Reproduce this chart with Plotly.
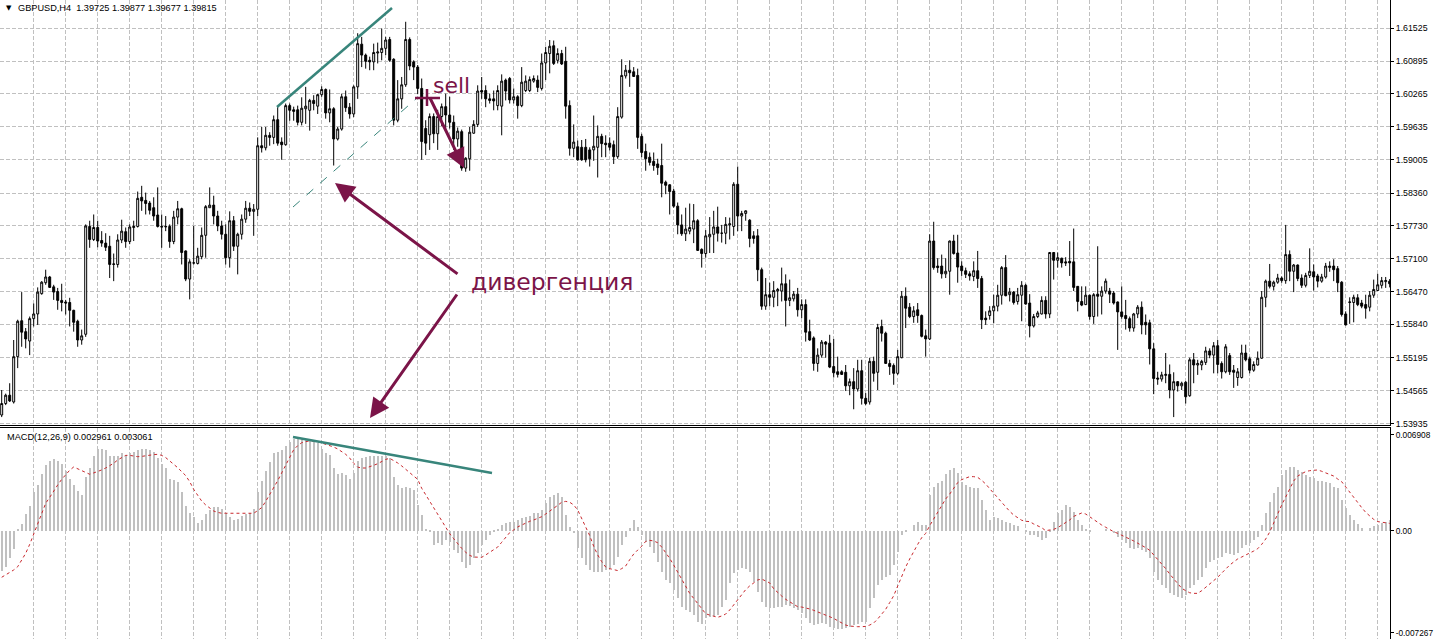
import plotly.graph_objects as go

# ---------------- data (prices stored as pips above 1.5000) ----------------
BASE = 1.5
PIP = 1e-4
bars = list(range(1, 349))

open_pips = [
    410, 432, 448, 435, 522, 591, 570, 552, 595, 604,
    643, 664, 675, 656, 647, 630, 627, 626, 611, 590,
    554, 565, 772, 747, 770, 745, 740, 734, 699, 699,
    746, 762, 743, 770, 772, 828, 822, 817, 808, 794,
    772, 771, 772, 743, 790, 806, 725, 671, 702, 701,
    714, 755, 808, 813, 792, 773, 757, 712, 783, 734,
    757, 786, 807, 801, 805, 927, 923, 947, 943, 977,
    934, 929, 1004, 996, 996, 972, 998, 995, 1014, 1003,
    1025, 1035, 990, 998, 940, 959, 1021, 1001, 988, 1040,
    1122, 1101, 1091, 1088, 1105, 1106, 1114, 1131, 1093, 976,
    1017, 1044, 1131, 1088, 1078, 1037, 960, 948, 983, 950,
    983, 1002, 986, 972, 940, 954, 884, 902, 951, 968,
    1033, 1033, 1017, 1017, 1004, 1003, 1053, 1056, 1015, 1021,
    1004, 1033, 1033, 1051, 1053, 1037, 1086, 1104, 1119, 1091,
    1104, 1089, 1004, 922, 925, 924, 924, 919, 919, 924,
    945, 932, 932, 929, 906, 982, 1061, 1072, 1069, 1062,
    945, 916, 905, 897, 892, 889, 857, 852, 840, 811,
    775, 758, 763, 767, 783, 728, 720, 752, 757, 771,
    759, 759, 775, 772, 853, 792, 797, 784, 754, 754,
    689, 619, 641, 636, 648, 648, 662, 630, 633, 642,
    612, 622, 570, 558, 509, 525, 550, 548, 503, 493,
    493, 492, 466, 474, 460, 495, 442, 435, 513, 492,
    580, 567, 509, 505, 490, 520, 638, 617, 599, 612,
    601, 562, 556, 744, 696, 696, 681, 686, 744, 721,
    696, 687, 681, 676, 687, 672, 596, 601, 610, 619,
    640, 693, 641, 646, 628, 640, 659, 625, 581, 599,
    604, 630, 604, 722, 707, 711, 704, 705, 704, 657,
    628, 622, 640, 599, 642, 638, 648, 648, 644, 627,
    608, 601, 595, 577, 604, 617, 588, 587, 537, 481,
    479, 486, 488, 458, 474, 466, 473, 447, 516, 506,
    506, 511, 533, 525, 543, 509, 493, 524, 496, 482,
    482, 529, 518, 496, 506, 519, 636, 667, 657, 665,
    673, 668, 718, 686, 698, 673, 659, 678, 685, 677,
    667, 675, 693, 696, 691, 665, 604, 626, 626, 635,
    625, 622, 617, 640, 649, 659, 666, 667,
]

high_pips = [
    458, 451, 471, 554, 593, 646, 577, 599, 624, 655,
    667, 689, 677, 660, 654, 662, 631, 635, 612, 593,
    574, 776, 783, 795, 783, 763, 759, 754, 720, 757,
    785, 770, 776, 783, 839, 850, 837, 821, 828, 847,
    795, 792, 776, 802, 821, 808, 726, 709, 773, 731,
    770, 813, 847, 831, 802, 783, 776, 801, 792, 760,
    795, 821, 818, 815, 943, 963, 963, 953, 985, 1001,
    943, 1008, 1008, 1002, 1004, 1020, 1040, 1017, 1024, 1027,
    1041, 1037, 1035, 1001, 963, 1027, 1033, 1009, 1043, 1143,
    1136, 1104, 1098, 1123, 1125, 1152, 1136, 1136, 1095, 1053,
    1059, 1165, 1135, 1091, 1082, 1056, 976, 989, 989, 996,
    1008, 1027, 1021, 985, 962, 958, 905, 963, 976, 1043,
    1059, 1043, 1027, 1033, 1043, 1064, 1056, 1059, 1037, 1024,
    1078, 1062, 1060, 1062, 1062, 1104, 1117, 1130, 1129, 1114,
    1111, 1117, 1014, 968, 937, 938, 940, 924, 985, 966,
    950, 947, 943, 937, 1001, 1093, 1082, 1091, 1078, 1075,
    950, 931, 914, 914, 902, 931, 860, 853, 844, 818,
    795, 808, 816, 815, 786, 730, 765, 790, 802, 810,
    775, 790, 789, 857, 887, 802, 803, 786, 763, 767,
    693, 673, 664, 667, 654, 693, 680, 670, 648, 654,
    632, 632, 593, 561, 538, 554, 552, 564, 556, 522,
    496, 506, 480, 500, 516, 516, 452, 520, 522, 585,
    593, 570, 516, 509, 535, 648, 655, 625, 619, 625,
    603, 574, 757, 781, 711, 718, 711, 745, 756, 756,
    705, 693, 686, 705, 725, 677, 609, 619, 641, 660,
    696, 717, 654, 648, 654, 667, 662, 642, 604, 610,
    638, 638, 723, 723, 722, 712, 713, 744, 768, 657,
    657, 657, 641, 644, 734, 657, 672, 654, 648, 628,
    657, 631, 599, 606, 621, 628, 603, 593, 548, 493,
    493, 529, 507, 492, 475, 474, 475, 520, 529, 516,
    516, 541, 538, 550, 554, 513, 546, 529, 506, 500,
    545, 545, 522, 513, 532, 648, 670, 700, 668, 681,
    676, 775, 726, 700, 699, 680, 683, 730, 699, 681,
    681, 702, 705, 709, 696, 667, 609, 636, 641, 642,
    631, 641, 648, 670, 681, 675, 675, 671,
]

low_pips = [
    406, 429, 435, 432, 500, 541, 538, 525, 580, 583,
    641, 660, 654, 631, 612, 609, 603, 580, 570, 541,
    545, 560, 731, 744, 732, 733, 725, 673, 667, 693,
    740, 731, 738, 744, 770, 802, 795, 795, 783, 770,
    731, 763, 731, 738, 776, 699, 667, 632, 699, 699,
    709, 712, 808, 776, 763, 747, 699, 693, 725, 680,
    747, 779, 792, 754, 792, 914, 918, 927, 930, 927,
    900, 927, 975, 975, 966, 966, 969, 956, 995, 988,
    1021, 979, 972, 889, 937, 956, 992, 979, 982, 1017,
    1078, 1075, 1072, 1072, 1085, 1091, 1101, 1088, 966, 972,
    998, 1040, 1072, 1053, 1026, 900, 909, 919, 932, 919,
    965, 960, 960, 919, 925, 879, 877, 879, 950, 963,
    1017, 1001, 1008, 995, 995, 947, 1014, 1008, 1008, 979,
    1001, 1030, 1030, 1048, 1030, 1033, 1053, 1066, 1082, 1085,
    1082, 979, 908, 905, 898, 898, 895, 887, 898, 866,
    905, 905, 918, 892, 902, 979, 1056, 1040, 1059, 921,
    905, 879, 889, 879, 871, 828, 834, 795, 808, 757,
    754, 744, 757, 740, 725, 693, 712, 721, 721, 743,
    741, 738, 747, 754, 763, 763, 783, 732, 739, 667,
    612, 612, 619, 617, 619, 628, 580, 619, 628, 599,
    596, 551, 552, 495, 493, 520, 520, 500, 482, 482,
    487, 456, 448, 421, 455, 430, 429, 430, 474, 458,
    551, 509, 487, 468, 487, 519, 577, 596, 587, 587,
    559, 522, 554, 689, 683, 672, 673, 641, 718, 664,
    677, 673, 668, 667, 654, 575, 583, 593, 586, 609,
    622, 638, 628, 622, 622, 590, 622, 559, 578, 596,
    603, 595, 596, 670, 693, 693, 696, 677, 648, 609,
    619, 621, 593, 585, 599, 603, 643, 625, 622, 535,
    595, 574, 570, 570, 596, 565, 564, 507, 450, 468,
    474, 471, 442, 406, 455, 458, 432, 445, 471, 487,
    496, 506, 519, 490, 490, 480, 490, 487, 462, 466,
    480, 513, 490, 493, 505, 518, 617, 653, 649, 662,
    664, 662, 667, 646, 667, 654, 655, 673, 649, 655,
    664, 672, 685, 667, 646, 599, 582, 585, 588, 619,
    615, 595, 609, 635, 648, 653, 654, 655,
]

close_pips = [
    432, 448, 437, 522, 590, 569, 556, 595, 604, 646,
    665, 675, 655, 646, 630, 626, 625, 611, 588, 554,
    562, 773, 747, 770, 744, 740, 732, 699, 700, 746,
    763, 743, 771, 772, 826, 821, 816, 803, 792, 772,
    771, 772, 743, 790, 806, 722, 671, 704, 702, 715,
    755, 810, 813, 792, 773, 757, 712, 783, 734, 757,
    786, 807, 801, 805, 927, 923, 947, 943, 977, 932,
    929, 1004, 995, 993, 972, 999, 1003, 1014, 1008, 1025,
    1035, 990, 998, 940, 959, 1021, 1000, 988, 1040, 1123,
    1101, 1089, 1088, 1106, 1107, 1114, 1130, 1091, 976, 1017,
    1044, 1131, 1080, 1078, 1037, 935, 932, 983, 950, 983,
    1002, 986, 972, 940, 955, 884, 903, 953, 968, 1032,
    1030, 1017, 1014, 1013, 1033, 1051, 1032, 1015, 1021, 1004,
    1049, 1051, 1054, 1056, 1039, 1086, 1106, 1118, 1085, 1104,
    1084, 1003, 922, 934, 900, 900, 900, 902, 926, 945,
    931, 929, 924, 906, 983, 1062, 1072, 1067, 1060, 943,
    914, 902, 895, 889, 885, 855, 851, 839, 811, 775,
    758, 767, 770, 783, 726, 720, 754, 757, 771, 759,
    759, 776, 777, 853, 792, 797, 802, 749, 749, 689,
    619, 641, 636, 649, 651, 662, 630, 635, 642, 612,
    622, 569, 554, 509, 525, 550, 546, 502, 491, 488,
    488, 466, 474, 460, 495, 442, 432, 513, 490, 578,
    567, 509, 503, 490, 522, 638, 615, 599, 610, 601,
    561, 556, 744, 693, 693, 681, 686, 744, 720, 694,
    687, 680, 677, 687, 672, 593, 593, 610, 619, 640,
    693, 639, 646, 626, 641, 659, 623, 581, 599, 606,
    630, 604, 722, 707, 712, 702, 702, 702, 655, 628,
    621, 640, 599, 641, 638, 648, 667, 642, 625, 608,
    599, 595, 577, 604, 617, 583, 583, 537, 480, 479,
    487, 488, 458, 474, 466, 471, 445, 516, 506, 509,
    513, 533, 525, 543, 507, 493, 541, 493, 492, 493,
    529, 516, 496, 507, 519, 636, 667, 657, 665, 673,
    668, 718, 686, 698, 672, 659, 678, 686, 675, 667,
    675, 696, 696, 689, 664, 603, 583, 627, 636, 622,
    619, 615, 640, 651, 660, 668, 668, 662,
]

# MACD(12,26,9) main line (histogram) and signal, in units of 0.0001
macd_main = [
    -27, -24, -18, -12, 1, 4.4, 11, 16.7, 26, 31,
    38, 44, 47, 48, 47, 45, 40, 35, 31, 27,
    24, 36, 42, 50, 55, 55, 54, 50.5, 50, 50.5,
    52, 51, 52, 53, 54, 55, 55, 54, 53, 49,
    45, 42, 35, 34, 33, 26, 17, 12, 9.5, 5,
    7, 11, 14, 16, 16, 15, 12, 9.5, 7, 8,
    10, 11, 12, 15, 26, 33.5, 40, 46.5, 52, 53,
    54, 57, 60, 62, 62, 62, 62, 61, 60, 59,
    55, 52, 51, 42, 38, 39, 37.5, 35, 39, 47,
    48.7, 49.4, 50, 50, 50.5, 50.5, 50, 48.7, 36.4, 30.8,
    29, 29.7, 28.6, 27.4, 17.4, 10.6, 1.2, -0.6, -9.5, -8.4,
    -9.5, -6.2, -7.3, -12.9, -15.1, -20.7, -25.2, -23, -18.5, -15.1,
    -9.5, -6.2, -2.8, -1, 0.6, 3.9, 5, 6.2, 6.2, 7.3,
    8.4, 9.5, 10.2, 11.8, 11.8, 14, 18.5, 23, 24, 25.2,
    23, 10.6, 2.8, -1.7, -11.8, -18.5, -23, -26.3, -27.4, -27.4,
    -27.4, -26.3, -25.2, -23, -17.4, -9.5, -3.9, 1.7, 7.3, 2.8,
    -2.8, -7.3, -10.6, -15.1, -20.7, -27.4, -33, -35.3, -39.8, -45.4,
    -51, -53.2, -54.8, -56.6, -61, -62.8, -58.4, -57.7, -57, -56.6,
    -51, -46.5, -35.3, -28.6, -26.3, -25.2, -25.7, -27.4, -34.2, -40.9,
    -47.6, -51, -52.1, -52.1, -51, -51, -49.8, -50.5, -52.1, -53.2,
    -55.4, -58.8, -62.2, -63.3, -62.8, -62.2, -62.8, -64.4, -65.5, -66,
    -66, -65.5, -64.4, -63.3, -62.6, -61.5, -61, -52.1, -45.4, -36.4,
    -33, -30.8, -29.7, -23, -14, -2.8, -1, 0, 3.9, 5.7,
    3.9, 3.9, 24, 29.7, 31.9, 33.5, 38, 40.9, 42, 38.6,
    33, 30.8, 29.7, 28.6, 28.6, 20.7, 14, 7.3, 9.5, 8.4,
    7.3, 6.2, 5, 3.9, 3.2, 0, -1, -2.8, -2.8, -3.9,
    -6.2, -5, -0.6, 6.2, 11.8, 14, 17.4, 16, 12.4, 7.3,
    3.9, 0.6, -0.6, 0, 0, 0, 0.6, 0, -1.7, -3.9,
    -6.2, -8.4, -11.8, -12.2, -11.8, -12.9, -14, -18.5, -27.4, -33,
    -36.4, -38.6, -42, -43.1, -44.2, -44.9, -43.1, -38.6, -36.4, -33,
    -30.8, -25.2, -20.7, -19.6, -18.5, -17.4, -15.1, -15.8, -16.2, -15.1,
    -11.8, -9.5, -8.4, -6.2, -3.9, 3.9, 11.8, 19.6, 25.2, 29.7,
    37.5, 40.9, 43.1, 43.1, 40.9, 39.8, 37.5, 36.4, 35.3, 33.5,
    33.5, 33, 31.9, 29.7, 28.6, 20.7, 15.1, 10.6, 7.3, 4.4,
    1.7, 0, 1.7, 3.5, 3.9, 5, 6.2, 7.3,
]

macd_signal = [
    -31.2, -29.7, -28.1, -26.3, -24.1, -19.6, -15.1, -9.1, -2.4, 4.8,
    12.2, 18.5, 22.5, 27, 30.8, 34.6, 38, 40.7, 42.9, 41.8,
    40.2, 39.3, 38, 38.9, 39.8, 40.9, 42.2, 43.6, 45.4, 47.6,
    49.4, 50.7, 50.7, 50.3, 49.8, 50, 50.5, 51, 51.2, 51.4,
    50.7, 49.2, 47.2, 44.7, 42.4, 39.8, 37.1, 33, 27.9, 23.9,
    20, 17.4, 15.1, 13.3, 12.4, 11.8, 11.8, 11.8, 11.8, 11.8,
    11.8, 11.8, 11.8, 11.8, 13.6, 15.6, 19.8, 24.3, 28.8, 33.7,
    38.9, 44.2, 49.4, 54.5, 57.2, 59.2, 59.9, 60.4, 60.1, 59.9,
    59, 58.1, 57.7, 56.3, 55, 53.4, 51.4, 48.9, 45.4, 42.8,
    42.2, 42.2, 42.9, 44, 45.1, 46.7, 48, 48.7, 47.2, 45.6,
    43.6, 41.1, 39.1, 36.8, 34.6, 28.6, 24.1, 19.6, 15.1, 10.6,
    6.2, 2.1, -1.9, -5.3, -8.6, -11.8, -14.4, -16.5, -17.6, -17.8,
    -17.8, -16.2, -14.4, -12.7, -10.9, -7.7, -4.1, -1.2, 0.6, 2.6,
    3.9, 5.3, 6.4, 7.3, 8.4, 9.5, 11.3, 13.1, 15.1, 17.1,
    19.2, 19.8, 19.2, 17.4, 14, 8.4, 2.8, -3.2, -10.4, -16.2,
    -20.7, -24.3, -25.4, -26.3, -26.7, -25.4, -23.6, -19.4, -15.6, -12.9,
    -10.4, -7.1, -6.4, -6.8, -8, -10.9, -14.4, -18.5, -23, -27.7,
    -32.4, -37.3, -42, -45.4, -48.7, -52.1, -55.7, -56.6, -57.5, -58.1,
    -57.2, -55.9, -53.2, -49.8, -46.7, -43.1, -39.5, -37, -35, -33,
    -32.4, -33.5, -35, -38.9, -41.6, -43.8, -46, -47.8, -49.6, -51,
    -51.2, -51.7, -52.5, -53.4, -54.5, -55.4, -56.3, -57.7, -58.8, -60.4,
    -61.9, -63.3, -64, -64.4, -64.4, -64.4, -64.2, -63.3, -61.9, -59.2,
    -56.3, -52.7, -48.2, -43.6, -37.1, -30.4, -24.3, -18.9, -13.6, -9.1,
    -4.6, -1.7, 3.5, 8, 12.4, 16.9, 21.4, 24.7, 28.6, 32.4,
    34.4, 35.5, 36.4, 36.4, 35.9, 33.9, 31.5, 28.3, 25.2, 22.3,
    19.2, 16, 13.1, 10.6, 8.6, 7.1, 6.4, 6.2, 4.6, 3.5,
    2.1, 0.1, 0.6, 1, 2.1, 3.7, 5.3, 7.3, 9.7, 10.9,
    12, 11.3, 9.3, 7.5, 5.7, 3.9, 2.4, 0.8, -0.6, -1.7,
    -2.8, -4.1, -5.5, -6.8, -8.2, -9.5, -11.3, -13.1, -16, -19.2,
    -21.8, -25.4, -29, -32.4, -35.5, -38.6, -40.2, -41.6, -42, -42,
    -40.2, -38, -35.7, -33.5, -31.2, -28.4, -25.6, -23, -20.9, -18.9,
    -17.6, -16.5, -14.9, -13.6, -12, -9.1, -5.5, -0.8, 5.5, 11.8,
    17.4, 22.7, 28.3, 33.5, 36.8, 38.6, 39.8, 40.4, 40.9, 40.9,
    40, 38.9, 37.5, 36.8, 34.8, 33, 29.5, 25.9, 22.3, 19,
    15.6, 12.4, 9.7, 7.7, 6.2, 5.7, 5.3, 5,
]

price_ticks = [1.61525, 1.60895, 1.60265, 1.59635, 1.59005, 1.58360, 1.57730,
               1.57100, 1.56470, 1.55840, 1.55195, 1.54565, 1.53935]
macd_tick_text = ["0.006908", "0.00", "-0.007267"]

header_text = "GBPUSD,H4\u00a0\u00a01.39725 1.39877 1.39677 1.39815"
macd_text = "MACD(12,26,9) 0.002961 0.003061"

n = len(bars)
for name, arr in [("open", open_pips), ("high", high_pips), ("low", low_pips),
                  ("close", close_pips), ("macd", macd_main), ("signal", macd_signal)]:
    assert len(arr) == n, f"{name} has {len(arr)} values, expected {n}"

o = [BASE + v * PIP for v in open_pips]
h = [BASE + v * PIP for v in high_pips]
l = [BASE + v * PIP for v in low_pips]
c = [BASE + v * PIP for v in close_pips]
mm = [v * PIP for v in macd_main]
ms = [v * PIP for v in macd_signal]

# ---------------- layout geometry ----------------
W, H = 1434, 639
ML, MR, MT, MB = 0, 44, 0, 0
PW, PH = W - ML - MR, H - MT - MB


def px(x):
    return (x - ML) / PW


def py(y):
    return (H - MB - y) / PH


PRICE_DOM = [py(425), 1.0]
MACD_DOM = [0.0, py(428)]

X_RANGE = [0.575, 348.075]
PRICE_RANGE = [1.53908, 1.62068]
MACD_RANGE = [-0.007267, 0.006908]
grid_x = [8.825 + 8 * i for i in range(43)]

GRID = "#c0c0c0"
GRIDDASH = "4px,2px"
HDRFONT = dict(family="Liberation Sans, Arial, sans-serif", size=9.2, color="black")
AXFONT = dict(family="Liberation Sans, Arial, sans-serif", size=8.8, color="black")
MACDAXFONT = dict(family="Liberation Sans, Arial, sans-serif", size=8.3, color="black")
TEAL = "#38857b"
MAG = "#7b1448"

fig = go.Figure()

fig.add_trace(go.Candlestick(
    x=bars, open=o, high=h, low=l, close=c,
    increasing=dict(line=dict(color="black", width=1), fillcolor="white"),
    decreasing=dict(line=dict(color="black", width=1), fillcolor="black"),
    whiskerwidth=0,
    xaxis="x", yaxis="y", showlegend=False, hoverinfo="skip",
))

fig.add_trace(go.Bar(
    x=bars, y=mm, width=0.28, marker=dict(color="#c0c0c0", line=dict(width=0)),
    xaxis="x2", yaxis="y2", showlegend=False, hoverinfo="skip",
))

fig.add_trace(go.Scatter(
    x=bars, y=ms, mode="lines",
    line=dict(color="#c8282d", width=1, dash="dot"),
    xaxis="x2", yaxis="y2", showlegend=False, hoverinfo="skip",
))

axis_common = dict(range=X_RANGE, showticklabels=False, tickvals=grid_x,
                   showgrid=True, gridcolor=GRID, griddash=GRIDDASH, gridwidth=1,
                   zeroline=False, showline=True, linecolor="black", linewidth=1,
                   mirror=True, ticks="", fixedrange=True)

fig.update_layout(
    width=W, height=H,
    margin=dict(l=ML, r=MR, t=MT, b=MB, pad=0, autoexpand=False),
    paper_bgcolor="white", plot_bgcolor="white",
    showlegend=False,
    bargap=0,
    xaxis=dict(domain=[0, 1], anchor="y", rangeslider=dict(visible=False), **axis_common),
    xaxis2=dict(domain=[0, 1], anchor="y2", **axis_common),
    yaxis=dict(domain=PRICE_DOM, range=PRICE_RANGE, side="right", anchor="x",
               tickvals=price_ticks, ticktext=[f"{v:.5f}" for v in price_ticks],
               showgrid=True, gridcolor=GRID, griddash=GRIDDASH, gridwidth=1,
               zeroline=False, showline=True, linecolor="black", linewidth=1, mirror=True,
               ticks="outside", ticklen=3, tickcolor="black", tickfont=AXFONT,
               fixedrange=True, automargin=False),
    yaxis2=dict(domain=MACD_DOM, range=MACD_RANGE, side="right", anchor="x2",
                tickvals=[0.00644, 0.0, -0.00686], ticktext=macd_tick_text,
                showgrid=False, zeroline=False, showline=True, linecolor="black",
                linewidth=1, mirror=True, ticks="outside", ticklen=3, tickcolor="black",
                tickfont=MACDAXFONT, fixedrange=True, automargin=False),
)

shapes = []


def seg(x0, y0, x1, y1, color, width, dash="solid"):
    shapes.append(dict(type="line", xref="paper", yref="paper",
                       x0=px(x0), y0=py(y0), x1=px(x1), y1=py(y1),
                       line=dict(color=color, width=width, dash=dash)))


# divergence trend lines
seg(277, 107, 392, 8, TEAL, 2.5)
seg(293, 207, 417, 98, TEAL, 1, "dash")
seg(293, 437, 492, 473, TEAL, 2.5)
# sell cross
seg(415, 98, 440, 98, MAG, 2.5)
seg(427, 89, 427, 106, MAG, 2.5)

fig.update_layout(shapes=shapes)

annotations = [
    dict(text="\u25bc", x=px(4), y=py(8), xref="paper", yref="paper",
         xanchor="left", yanchor="middle", showarrow=False,
         font=dict(family="DejaVu Sans", size=7, color="black")),
    dict(text=header_text, x=px(16), y=py(8), xref="paper", yref="paper",
         xanchor="left", yanchor="middle", showarrow=False, font=HDRFONT),
    dict(text=macd_text, x=px(5), y=py(437), xref="paper", yref="paper",
         xanchor="left", yanchor="middle", showarrow=False, font=HDRFONT),
    dict(text="sell", x=px(451), y=py(85), xref="paper", yref="paper",
         xanchor="center", yanchor="middle", showarrow=False,
         font=dict(family="DejaVu Sans", size=22, color=MAG)),
    dict(text="дивергенция", x=px(552), y=py(282), xref="paper", yref="paper",
         xanchor="center", yanchor="middle", showarrow=False,
         font=dict(family="DejaVu Sans", size=23.5, color=MAG)),
]


def arrow(tx, ty, hx, hy):
    annotations.append(dict(
        x=px(hx), y=py(hy), xref="paper", yref="paper",
        ax=tx - hx, ay=ty - hy, axref="pixel", ayref="pixel",
        text="", showarrow=True, arrowhead=2, arrowsize=1.3, arrowwidth=3,
        arrowcolor=MAG, standoff=0, startstandoff=0))


arrow(459, 275, 335, 183)
arrow(458, 293, 370, 418)
arrow(429, 96, 464, 168)

fig.update_layout(annotations=annotations)

fig.write_html(
    "out.html",
    config={"displayModeBar": False},
    post_script="document.body.style.margin='0';document.body.style.overflow='hidden';",
)
